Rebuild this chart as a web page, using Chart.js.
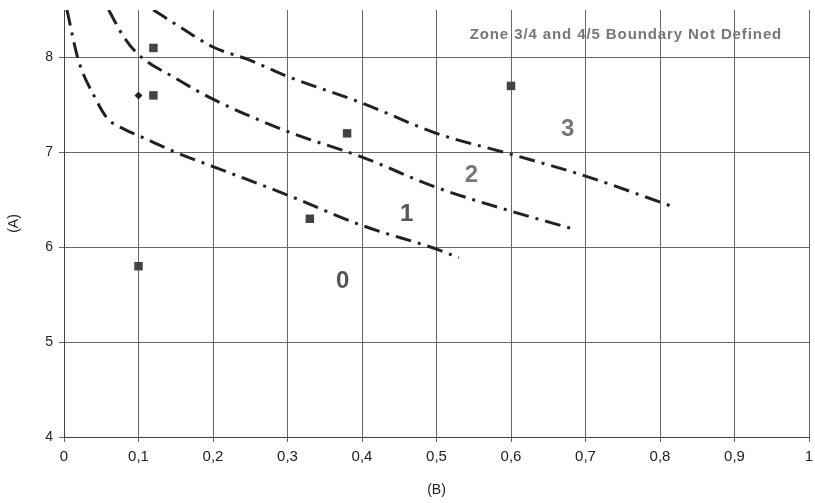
<!DOCTYPE html>
<html>
<head>
<meta charset="utf-8">
<script src="https://cdn.jsdelivr.net/npm/chart.js@4/dist/chart.umd.min.js"></script>
<style>
  html, body { margin: 0; padding: 0; background: #fff; }
  #wrap { width: 815px; height: 503px; }
</style>
</head>
<body>
<div id="wrap"><canvas id="zone-chart"></canvas></div>
<script>
// boundary curves (B, A)
var boundary01 = [[0.004, 8.5], [0.019, 7.98], [0.042, 7.57], [0.058, 7.36], [0.082, 7.24], [0.102, 7.17], [0.15, 7.0], [0.2, 6.85], [0.3, 6.55], [0.4, 6.23], [0.5, 5.98], [0.53, 5.89]];
var boundary12 = [[0.06, 8.5], [0.08, 8.22], [0.1, 8.03], [0.15, 7.78], [0.2, 7.56], [0.3, 7.22], [0.4, 6.95], [0.5, 6.63], [0.6, 6.38], [0.68, 6.2]];
var boundary23 = [[0.12, 8.5], [0.16, 8.3], [0.2, 8.11], [0.25, 7.97], [0.3, 7.8], [0.4, 7.52], [0.5, 7.2], [0.6, 6.98], [0.7, 6.75], [0.82, 6.42]];

// measured points
var squareB = [0.12, 0.12, 0.1, 0.33, 0.38, 0.6];
var squareA = [8.1, 7.6, 5.8, 6.3, 7.2, 7.7];
var diamondB = [0.1];
var diamondA = [7.6];

// zone labels
var zoneText = ["0", "1", "2", "3"];
var zoneB = [0.374, 0.46, 0.547, 0.676];
var zoneA = [5.64, 6.35, 6.76, 7.24];
var zoneColor = ["#555", "#555", "#777", "#777"];

var note = "Zone 3/4 and 4/5 Boundary Not Defined";
var noteB = 0.964;
var noteA = 8.24;

var xTicks = [0, 0.1, 0.2, 0.3, 0.4, 0.5, 0.6, 0.7, 0.8, 0.9, 1];
var yTicks = [4, 5, 6, 7, 8];

function toXY(arr) {
  return arr.map(function (p) { return { x: p[0], y: p[1] }; });
}
function pairs(xs, ys) {
  return xs.map(function (v, i) { return { x: v, y: ys[i] }; });
}

var curveStyle = {
  showLine: true,
  borderColor: "#222",
  borderWidth: 3,
  borderDash: [16, 7, 3, 7],
  pointRadius: 0,
  fill: false,
  cubicInterpolationMode: "monotone",
};

var labelPlugin = {
  id: "zoneLabels",
  afterDatasetsDraw: function (chart) {
    var c = chart.ctx;
    var xs = chart.scales.x, ys = chart.scales.y;
    c.save();
    c.textAlign = "center";
    c.textBaseline = "middle";
    c.font = "bold 24px Arial, 'Liberation Sans', sans-serif";
    zoneText.forEach(function (t, i) {
      c.fillStyle = zoneColor[i];
      c.fillText(t, xs.getPixelForValue(zoneB[i]), ys.getPixelForValue(zoneA[i]));
    });
    c.font = "bold 15px Arial, 'Liberation Sans', sans-serif";
    c.letterSpacing = "0.9px";
    c.fillStyle = "#777";
    c.textAlign = "right";
    c.fillText(note, xs.getPixelForValue(noteB), ys.getPixelForValue(noteA));
    c.restore();
  },
};

var ctx = document.getElementById("zone-chart").getContext("2d");
var chart = new Chart(ctx, {
  type: "scatter",
  data: {
    datasets: [
      Object.assign({ data: toXY(boundary01) }, curveStyle),
      Object.assign({ data: toXY(boundary12) }, curveStyle),
      Object.assign({ data: toXY(boundary23) }, curveStyle),
      {
        data: pairs(squareB, squareA),
        pointStyle: "rect",
        pointRadius: 6,
        backgroundColor: "#444",
        borderColor: "#444",
        borderWidth: 0,
      },
      {
        data: pairs(diamondB, diamondA),
        pointStyle: "rectRot",
        pointRadius: 4,
        backgroundColor: "#222",
        borderColor: "#222",
        borderWidth: 0,
      },
    ],
  },
  options: {
    responsive: true,
    maintainAspectRatio: false,
    animation: false,
    layout: { padding: { top: 10, right: 5, left: 0, bottom: 0 } },
    plugins: { legend: { display: false }, tooltip: { enabled: false } },
    scales: {
      x: {
        type: "linear",
        min: 0,
        max: 1,
        afterBuildTicks: function (s) { s.ticks = xTicks.map(function (v) { return { value: v }; }); },
        afterFit: function (s) { s.height = 66; s.paddingLeft = 0; s.paddingRight = 0; },
        ticks: {
          color: "#222",
          font: { family: "'Liberation Sans Narrow', Arial, sans-serif", size: 15 },
          padding: 6,
          maxRotation: 0,
          callback: function (v) { return String(v).replace(".", ","); },
        },
        grid: { color: "#666", lineWidth: 1, tickLength: 5 },
        border: { color: "#444", width: 1 },
        title: {
          display: true,
          text: "(B)",
          color: "#222",
          font: { family: "Arial, sans-serif", size: 14 },
          padding: { top: 2 },
        },
      },
      y: {
        type: "linear",
        min: 4,
        max: 8.5,
        afterBuildTicks: function (s) { s.ticks = yTicks.map(function (v) { return { value: v }; }); },
        afterFit: function (s) { s.width = 64; s.paddingTop = 0; s.paddingBottom = 0; },
        ticks: {
          color: "#222",
          font: { family: "Arial, sans-serif", size: 14 },
          padding: 6,
        },
        grid: { color: "#666", lineWidth: 1, tickLength: 5 },
        border: { color: "#444", width: 1 },
        title: {
          display: true,
          text: "(A)",
          color: "#222",
          font: { family: "Arial, sans-serif", size: 14 },
          padding: { bottom: 12, top: 6 },
        },
      },
    },
  },
  plugins: [labelPlugin],
});
</script>
</body>
</html>
